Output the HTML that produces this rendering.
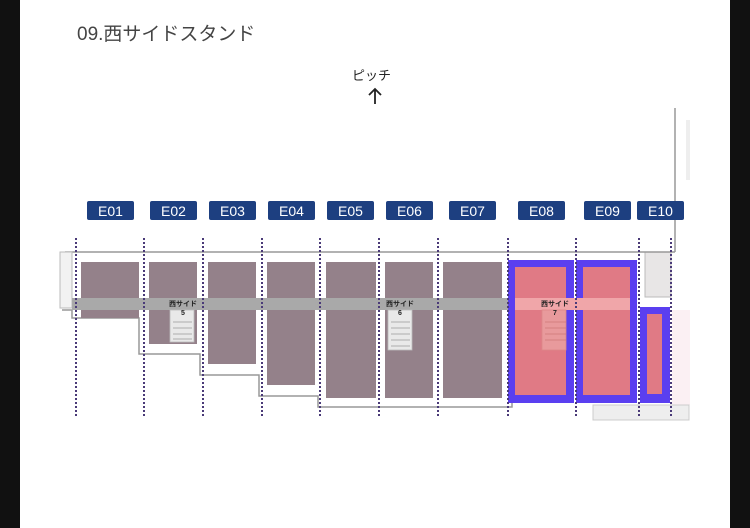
<!DOCTYPE html>
<html><head><meta charset="utf-8"><style>
html,body{margin:0;padding:0;background:#111;}
body{width:750px;height:528px;overflow:hidden;position:relative;}
</style></head><body>
<svg width="750" height="528" xmlns="http://www.w3.org/2000/svg" style="position:absolute;left:0;top:0">
<rect x="0" y="0" width="750" height="528" fill="#111"/>
<rect x="20" y="0" width="710" height="528" fill="#fff"/>
<text x="77" y="40" font-family="Liberation Sans, Noto Sans CJK JP, sans-serif" font-size="19" fill="#444">09.西サイドスタンド</text>
<text x="352" y="80" font-family="Liberation Sans, Noto Sans CJK JP, sans-serif" font-size="13" fill="#222">ピッチ</text>
<path d="M375 104 V89 M369 95 L375 89 L381 95" stroke="#222" stroke-width="1.8" fill="none"/>
<!-- right structure -->
<line x1="675" y1="108" x2="675" y2="252" stroke="#999" stroke-width="1.5"/>
<rect x="686" y="120" width="4" height="60" fill="#eee"/>
<rect x="645" y="252" width="26" height="45" fill="#e8e6e6" stroke="#bbb"/>
<rect x="672" y="310" width="18" height="95" fill="#fbf0f3"/>
<rect x="593" y="405" width="96" height="15" fill="#eee" stroke="#ccc"/>
<!-- outer line -->
<line x1="65" y1="252" x2="675" y2="252" stroke="#999" stroke-width="1.5"/>
<rect x="60" y="252" width="12" height="56" fill="#f2f2f2" stroke="#bbb"/>
<path d="M62 310 H72 V318 H139 V354 H200 V375 H259 V396 H318 V407 H512 V402" stroke="#999" stroke-width="1.5" fill="none"/>
<!-- blocks -->
<g fill="#94818a">
<rect x="81" y="262" width="58" height="56"/>
<rect x="149" y="262" width="48" height="82"/>
<rect x="208" y="262" width="48" height="102"/>
<rect x="267" y="262" width="48" height="123"/>
<rect x="326" y="262" width="50" height="136"/>
<rect x="385" y="262" width="48" height="136"/>
<rect x="443" y="262" width="59" height="136"/>
</g>
<rect x="72" y="298" width="436" height="12" fill="#a9a9a9"/>
<!-- stairs -->
<g fill="#e9e9e9" stroke="#bbb" stroke-width="0.8">
<rect x="170" y="310" width="24" height="32"/>
<rect x="388" y="310" width="24" height="40"/>
</g>
<g stroke="#999" stroke-width="0.8">
<line x1="173" y1="322" x2="192" y2="322"/><line x1="173" y1="328" x2="192" y2="328"/><line x1="173" y1="334" x2="192" y2="334"/><line x1="173" y1="339" x2="192" y2="339"/>
<line x1="391" y1="322" x2="410" y2="322"/><line x1="391" y1="328" x2="410" y2="328"/><line x1="391" y1="334" x2="410" y2="334"/><line x1="391" y1="340" x2="410" y2="340"/><line x1="391" y1="346" x2="410" y2="346"/>
</g>
<!-- highlighted -->
<g fill="#5a3ff0">
<rect x="508" y="260" width="66" height="143"/>
<rect x="576" y="260" width="61" height="143"/>
<rect x="640" y="307" width="30" height="96"/>
</g>
<g fill="#e07a85">
<rect x="515" y="267" width="51" height="128"/>
<rect x="583" y="267" width="47" height="128"/>
<rect x="647" y="314" width="15" height="80"/>
</g>
<rect x="515" y="298" width="115" height="12" fill="#f0a6a9"/>
<rect x="542" y="310" width="24" height="40" fill="#e89a9c" stroke="#d88" stroke-width="0.8"/>
<g stroke="#c77" stroke-width="0.8"><line x1="545" y1="322" x2="566" y2="322"/><line x1="545" y1="328" x2="566" y2="328"/><line x1="545" y1="334" x2="566" y2="334"/><line x1="545" y1="340" x2="566" y2="340"/></g>
<g font-family="Liberation Sans, Noto Sans CJK JP, sans-serif" font-size="7" font-weight="bold" fill="#222" text-anchor="middle">
<text x="183" y="306">西サイド</text><text x="183" y="315">5</text>
<text x="400" y="306">西サイド</text><text x="400" y="315">6</text>
<text x="555" y="306">西サイド</text><text x="555" y="315">7</text>
</g>
<!-- dotted lines -->
<g stroke="#4a3a78" stroke-width="2" stroke-dasharray="2 2">
<line x1="76" y1="238" x2="76" y2="416"/><line x1="144" y1="238" x2="144" y2="416"/>
<line x1="203" y1="238" x2="203" y2="416"/><line x1="262" y1="238" x2="262" y2="416"/>
<line x1="320" y1="238" x2="320" y2="416"/><line x1="379" y1="238" x2="379" y2="416"/>
<line x1="438" y1="238" x2="438" y2="416"/><line x1="508" y1="238" x2="508" y2="416"/>
<line x1="576" y1="238" x2="576" y2="416"/><line x1="639" y1="238" x2="639" y2="416"/>
<line x1="671" y1="238" x2="671" y2="416"/>
</g>
<!-- labels -->
<g fill="#1d3f80">
<rect x="87" y="201" width="47" height="19" rx="2"/><rect x="150" y="201" width="47" height="19" rx="2"/>
<rect x="209" y="201" width="47" height="19" rx="2"/><rect x="268" y="201" width="47" height="19" rx="2"/>
<rect x="327" y="201" width="47" height="19" rx="2"/><rect x="386" y="201" width="47" height="19" rx="2"/>
<rect x="449" y="201" width="47" height="19" rx="2"/><rect x="518" y="201" width="47" height="19" rx="2"/>
<rect x="584" y="201" width="47" height="19" rx="2"/><rect x="637" y="201" width="47" height="19" rx="2"/>
</g>
<g fill="#fff" font-family="Liberation Sans, sans-serif" font-size="14" text-anchor="middle">
<text x="110.5" y="216">E01</text><text x="173.5" y="216">E02</text><text x="232.5" y="216">E03</text>
<text x="291.5" y="216">E04</text><text x="350.5" y="216">E05</text><text x="409.5" y="216">E06</text>
<text x="472.5" y="216">E07</text><text x="541.5" y="216">E08</text><text x="607.5" y="216">E09</text>
<text x="660.5" y="216">E10</text>
</g>
</svg>
</body></html>
